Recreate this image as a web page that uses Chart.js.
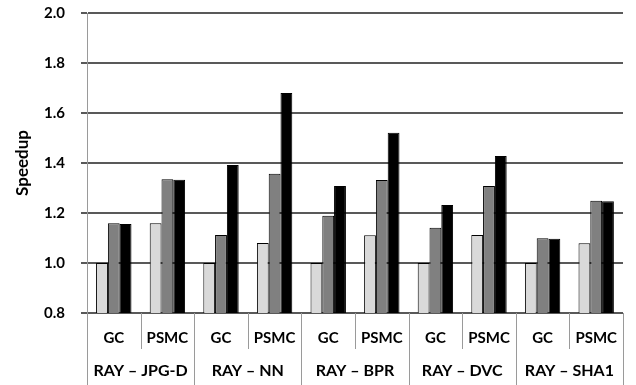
<!DOCTYPE html>
<html>
<head>
<meta charset="utf-8">
<script src="https://cdn.jsdelivr.net/npm/chart.js@4"></script>
<style>
  body { margin: 0; background: #fff; }
  canvas { display: block; }
</style>
</head>
<body>
<canvas id="speedupChart" width="636" height="385"></canvas>
<script>
// Data
const categories = ['GC', 'PSMC', 'GC', 'PSMC', 'GC', 'PSMC', 'GC', 'PSMC', 'GC', 'PSMC'];
const groups = ['RAY – JPG-D', 'RAY – NN', 'RAY – BPR', 'RAY – DVC', 'RAY – SHA1'];
const seriesA = [1.0, 1.159, 1.0, 1.08, 1.0, 1.111, 1.0, 1.112, 1.0, 1.079];
const seriesB = [1.159, 1.335, 1.112, 1.357, 1.189, 1.332, 1.141, 1.308, 1.099, 1.249];
const seriesC = [1.156, 1.333, 1.392, 1.68, 1.308, 1.521, 1.232, 1.428, 1.097, 1.247];
const yTicks = [0.8, 1.0, 1.2, 1.4, 1.6, 1.8, 2.0];

const fontFamily = 'Lato, "Open Sans", sans-serif';
const gridColor = '#595959';
const sepColor = '#9a9a9a';

// Two-level category labels with separators under the x axis
const groupLabels = {
    id: 'groupLabels',
    afterDraw(chart) {
        const ctx = chart.ctx;
        const x = chart.scales.x;
        const bottom = chart.chartArea.bottom;
        const half = (x.getPixelForValue(1) - x.getPixelForValue(0)) / 2;

        ctx.save();
        ctx.strokeStyle = sepColor;
        ctx.lineWidth = 1;
        for (let i = 0; i <= categories.length; i++) {
            const px = Math.round(x.getPixelForValue(i) - half) + 0.5;
            const end = i % 2 === 0 ? chart.height : bottom + 36;
            ctx.beginPath();
            ctx.moveTo(px, bottom);
            ctx.lineTo(px, end);
            ctx.stroke();
        }

        ctx.fillStyle = '#000';
        ctx.textAlign = 'center';
        ctx.textBaseline = 'middle';
        ctx.font = 'bold 15px ' + fontFamily;
        categories.forEach((c, i) => {
            ctx.fillText(c, x.getPixelForValue(i), bottom + 25);
        });
        ctx.font = 'bold 16px ' + fontFamily;
        groups.forEach((g, i) => {
            const cx = (x.getPixelForValue(i * 2) + x.getPixelForValue(i * 2 + 1)) / 2;
            ctx.fillText(g, cx, bottom + 58);
        });
        ctx.restore();
    }
};

const ctx = document.getElementById('speedupChart').getContext('2d');
new Chart(ctx, {
    type: 'bar',
    data: {
        labels: categories,
        datasets: [
            { label: 'A', data: seriesA, backgroundColor: '#d9d9d9', borderColor: '#000', borderWidth: 1 },
            { label: 'B', data: seriesB, backgroundColor: '#808080', borderColor: '#000', borderWidth: 1 },
            { label: 'C', data: seriesC, backgroundColor: '#000000', borderColor: '#000', borderWidth: 1 }
        ]
    },
    options: {
        responsive: false,
        animation: false,
        layout: { padding: { top: 13, right: 13, left: 0, bottom: 0 } },
        plugins: {
            legend: { display: false },
            tooltip: { enabled: false }
        },
        datasets: {
            bar: { categoryPercentage: 0.66, barPercentage: 1.0, borderSkipped: 'start' }
        },
        scales: {
            x: {
                ticks: { display: false },
                grid: { display: false },
                border: { display: true, color: gridColor, width: 1 },
                afterFit(scale) { scale.height = 72; }
            },
            y: {
                min: 0.8,
                max: 2.0,
                afterBuildTicks(scale) { scale.ticks = yTicks.map(v => ({ value: v })); },
                ticks: {
                    color: '#000',
                    padding: 16,
                    font: { family: fontFamily, size: 15, weight: 'bold' },
                    callback: v => v.toFixed(1)
                },
                grid: { color: gridColor, lineWidth: 2, tickLength: 6 },
                border: { color: sepColor, width: 1 },
                title: {
                    display: true,
                    text: 'Speedup',
                    color: '#000',
                    font: { family: fontFamily, size: 17, weight: 'bold' },
                    padding: { top: 12, bottom: 0 }
                },
                afterFit(scale) {
                    scale.width = 87;
                    scale.paddingTop = 0;
                    scale.paddingBottom = 0;
                }
            }
        }
    },
    plugins: [groupLabels]
});
</script>
</body>
</html>
